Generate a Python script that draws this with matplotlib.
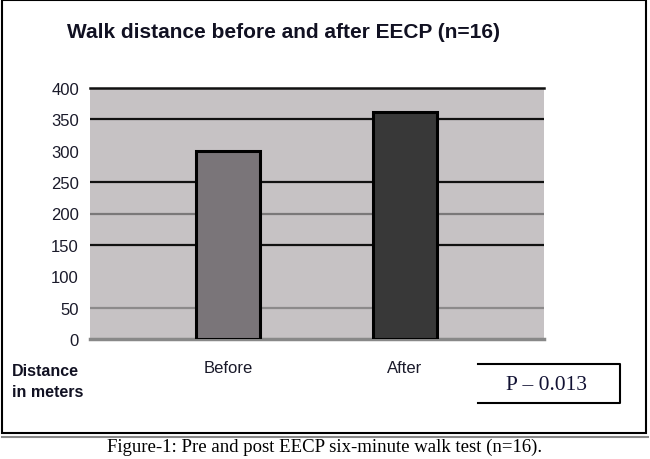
import matplotlib.pyplot as plt
from matplotlib.patches import Rectangle
from matplotlib.lines import Line2D

groups = ["Before", "After"]
distance = [300, 362]
y_ticks = [0, 50, 100, 150, 200, 250, 300, 350, 400]
p_text = "P \u2013 0.013"

W, H = 650, 460
fig = plt.figure(figsize=(6.5, 4.6), dpi=100)
plt.rcParams['font.family'] = ['Liberation Sans', 'DejaVu Sans']

def fx(px):
    return px / W

def fy(py):
    return 1 - py / H

ax = fig.add_axes([fx(90), fy(340), fx(544) - fx(90), fy(89) - fy(340)])
ax.set_facecolor("#c6c2c4")

# grid lines as they appear in the scan (100 and 300 are missing)
for lvl, col in [(50, "#8c8a8b"), (150, "#111111"), (200, "#7a7879"),
                 (250, "#111111"), (350, "#111111")]:
    ax.axhline(lvl, color=col, lw=1.6, zorder=1)

ax.bar(range(len(groups)), distance, width=0.36,
       color=["#7a7579", "#383838"], edgecolor="black", linewidth=2.2, zorder=3)

ax.set_ylim(0, 400)
ax.set_xlim(-0.78, 1.785)
ax.set_yticks(y_ticks)
ax.set_xticks(range(len(groups)))
ax.set_xticklabels(groups)
ax.tick_params(axis="both", length=0, labelsize=12, colors="#1a1a2a")
ax.tick_params(axis="y", pad=8)
ax.tick_params(axis="x", pad=15)

for s in ["left", "right"]:
    ax.spines[s].set_visible(False)
ax.spines["top"].set_color("#111111")
ax.spines["top"].set_linewidth(1.8)
ax.spines["bottom"].set_color("#888888")
ax.spines["bottom"].set_linewidth(2.5)

fig.text(fx(67), fy(32), "Walk distance before and after EECP (n=16)",
         fontsize=15, fontweight="bold", ha="left", va="center", color="#111122")
fig.text(fx(12), fy(382), "Distance\nin meters", fontsize=11.5, fontweight="bold",
         ha="left", va="center", linespacing=1.5, color="#111122")

# P value box, open on the left side
box = [(478, 365), (620, 365), (620, 404), (478, 404)]
fig.add_artist(Line2D([fx(p[0]) for p in box], [fy(p[1]) for p in box],
                      color="black", lw=1.5))
fig.text(fx(546), fy(385), p_text, fontsize=15.5, family="Liberation Serif",
         ha="center", va="center", color="#111133")

# outer frame and rule below
fig.add_artist(Rectangle((fx(2), fy(434)), fx(646) - fx(2), fy(1) - fy(434),
                         fill=False, edgecolor="black", lw=1.5))
fig.add_artist(Line2D([fx(2), fx(648)], [fy(438), fy(438)], color="#888888", lw=1.5))

fig.text(0.5, fy(447), "Figure-1: Pre and post EECP six-minute walk test (n=16).",
         fontsize=13.5, family="Liberation Serif", ha="center", va="center")

fig.savefig("out.png", dpi=100)
